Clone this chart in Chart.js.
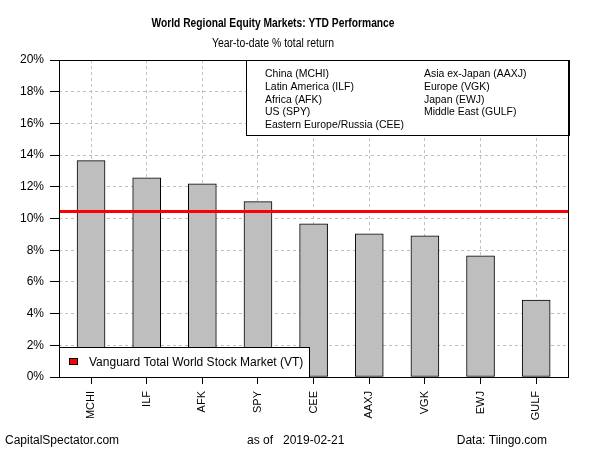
<!DOCTYPE html>
<html>
<head>
<meta charset="utf-8">
<script src="https://cdn.jsdelivr.net/npm/chart.js@4"></script>
<style>
  html, body { margin: 0; padding: 0; background: #fff; }
  #wrap { width: 600px; height: 450px; }
</style>
</head>
<body>
<div id="wrap"><canvas id="chart" width="600" height="450"></canvas></div>
<script>
// --- datos ---
const tickers = ['MCHI', 'ILF', 'AFK', 'SPY', 'CEE', 'AAXJ', 'VGK', 'EWJ', 'GULF'];
const ytdReturns = [13.65, 12.57, 12.19, 11.06, 9.66, 9.03, 8.90, 7.64, 4.85];
const vtReturn = 10.44;
const yTicks = [0, 2, 4, 6, 8, 10, 12, 14, 16, 18, 20];
const legendLeft = ['China (MCHI)', 'Latin America (ILF)', 'Africa (AFK)', 'US (SPY)', 'Eastern Europe/Russia (CEE)'];
const legendRight = ['Asia ex-Japan (AAXJ)', 'Europe (VGK)', 'Japan (EWJ)', 'Middle East (GULF)'];
const vtLabel = 'Vanguard Total World Stock Market (VT)';
const titleText = 'World Regional Equity Markets: YTD Performance';
const subtitleText = 'Year-to-date % total return';
const footerLeft = 'CapitalSpectator.com';
const footerMid = 'as of   2019-02-21';
const footerRight = 'Data: Tiingo.com';

const FONT = "'Liberation Sans', Arial, sans-serif";

// texto algo estrecho, como el original
function narrowText(ctx, text, x, y, font, sx) {
    ctx.save();
    ctx.font = font;
    ctx.translate(x, y);
    ctx.scale(sx, 1);
    ctx.fillText(text, 0, 0);
    ctx.restore();
}

const rPlot = {
    id: 'rPlot',
    beforeDraw(chart) {
        const ctx = chart.ctx;
        ctx.save();
        ctx.fillStyle = '#fff';
        ctx.fillRect(0, 0, chart.width, chart.height);
        ctx.restore();
    },
    afterDatasetsDraw(chart) {
        const { ctx, chartArea: a, scales } = chart;
        ctx.save();
        // linea VT
        const yv = scales.y.getPixelForValue(vtReturn);
        ctx.strokeStyle = '#ff0000';
        ctx.lineWidth = 3;
        ctx.beginPath();
        ctx.moveTo(a.left, yv);
        ctx.lineTo(a.right, yv);
        ctx.stroke();

        // leyenda arriba derecha
        ctx.textBaseline = 'middle';
        ctx.textAlign = 'left';
        const bx = 246.5, by = a.top + 0.5, bw = a.right - 246, bh = 75;
        ctx.fillStyle = '#fff';
        ctx.fillRect(bx, by, bw, bh);
        ctx.strokeStyle = '#000';
        ctx.lineWidth = 1;
        ctx.strokeRect(bx, by, bw, bh);
        ctx.fillStyle = '#000';
        const lf = '11.5px ' + FONT;
        legendLeft.forEach((t, i) => narrowText(ctx, t, 265, 74 + i * 12.7, lf, 0.91));
        legendRight.forEach((t, i) => narrowText(ctx, t, 424, 74 + i * 12.7, lf, 0.91));

        // leyenda abajo izquierda
        const lx = a.left + 0.5, ly = 347.5, lw = 250, lh = a.bottom - 347;
        ctx.fillStyle = '#fff';
        ctx.fillRect(lx, ly, lw, lh);
        ctx.strokeRect(lx, ly, lw, lh);
        ctx.fillStyle = '#ff0000';
        ctx.fillRect(69, 358, 9, 7);
        ctx.strokeStyle = '#000';
        ctx.strokeRect(69.5, 358.5, 8, 6);
        ctx.fillStyle = '#000';
        ctx.font = '12px ' + FONT;
        ctx.fillText(vtLabel, 89, 363);

        // marco
        ctx.strokeStyle = '#000';
        ctx.lineWidth = 1;
        ctx.strokeRect(a.left + 0.5, a.top + 0.5, a.right - a.left - 1, a.bottom - a.top);
        ctx.restore();
    },
    afterDraw(chart) {
        const ctx = chart.ctx;
        ctx.save();
        ctx.fillStyle = '#000';
        ctx.textBaseline = 'middle';
        ctx.textAlign = 'center';
        narrowText(ctx, titleText, 273, 24, 'bold 12.5px ' + FONT, 0.82);
        narrowText(ctx, subtitleText, 273, 44, '12px ' + FONT, 0.87);
        ctx.font = '12px ' + FONT;
        ctx.textAlign = 'left';
        ctx.fillText(footerLeft, 5, 441);
        ctx.fillText(footerMid, 247, 441);
        ctx.textAlign = 'right';
        ctx.fillText(footerRight, 547, 441);
        ctx.restore();
    }
};

new Chart(document.getElementById('chart'), {
    type: 'bar',
    data: {
        datasets: [{
            label: 'YTD',
            data: tickers.map((t, i) => ({ x: i, y: ytdReturns[i] })),
            backgroundColor: '#bebebe',
            borderColor: '#000',
            borderWidth: 1,
            borderSkipped: false,
            barThickness: 28
        }]
    },
    options: {
        responsive: false,
        animation: false,
        events: [],
        layout: { padding: { left: 0, top: 60, right: 31, bottom: 0 } },
        plugins: { legend: { display: false }, tooltip: { enabled: false }, title: { display: false } },
        scales: {
            x: {
                type: 'linear',
                offset: false,
                min: -0.576,
                max: 8.59,
                afterBuildTicks: s => { s.ticks = tickers.map((t, i) => ({ value: i })); },
                afterFit: s => { s.height = 73; },
                ticks: {
                    autoSkip: false,
                    minRotation: 90,
                    maxRotation: 90,
                    padding: 7,
                    color: '#000',
                    font: { family: FONT, size: 11 },
                    callback: v => tickers[v]
                },
                grid: {
                    offset: false,
                    color: '#c0c0c0',
                    tickColor: '#000',
                    tickLength: 7,
                    tickBorderDash: [],
                    drawOnChartArea: true
                },
                border: { display: false, dash: [3, 3] }
            },
            y: {
                min: 0,
                max: 20,
                afterBuildTicks: s => { s.ticks = yTicks.map(v => ({ value: v })); },
                afterFit: s => { s.width = 59; },
                ticks: {
                    padding: 6,
                    color: '#000',
                    font: { family: FONT, size: 12 },
                    callback: v => v + '%'
                },
                grid: {
                    color: '#c0c0c0',
                    tickColor: '#000',
                    tickLength: 9,
                    tickBorderDash: []
                },
                border: { display: false, dash: [3, 3] }
            }
        }
    },
    plugins: [rPlot]
});
</script>
</body>
</html>
